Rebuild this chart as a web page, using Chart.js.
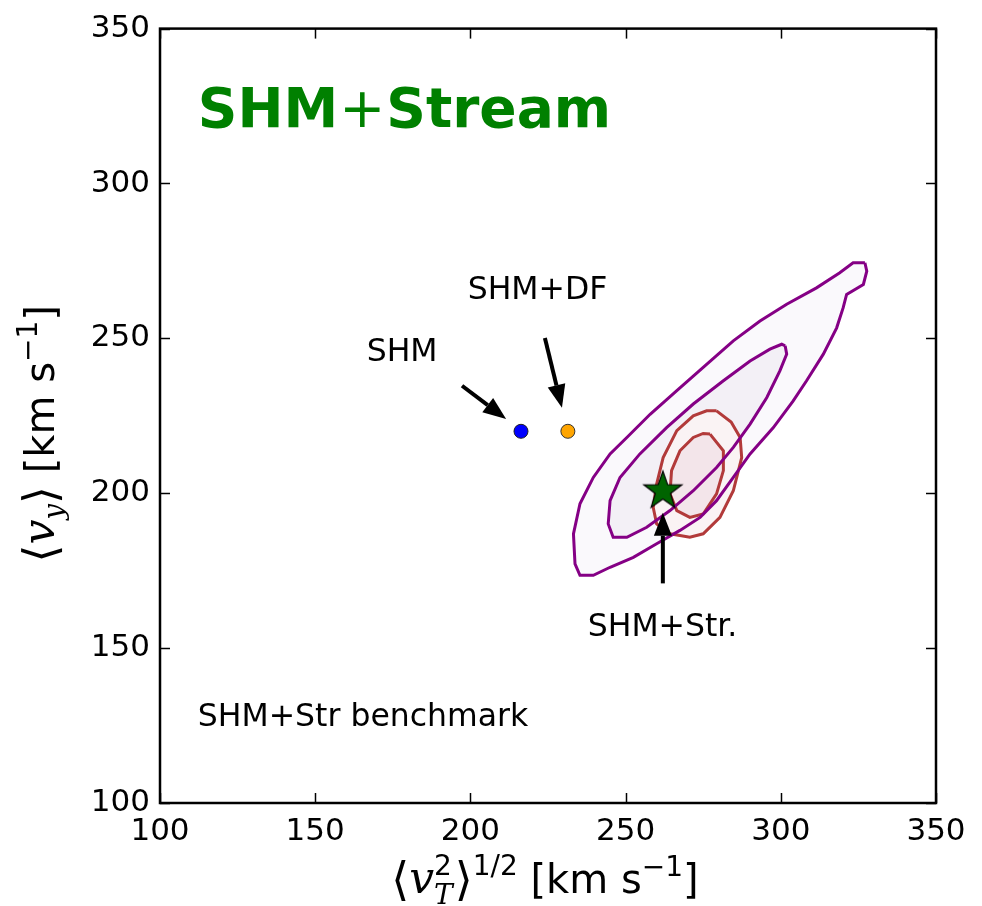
<!DOCTYPE html>
<html><head><meta charset="utf-8">
<script src="https://cdn.jsdelivr.net/npm/chart.js@4/dist/chart.umd.min.js"></script>
<style>html,body{margin:0;padding:0;background:#fff}#wrap{width:982px;height:906px}</style>
</head><body><div id="wrap"><canvas id="c"></canvas></div>
<script>
// ---------- data ----------
const xTicks = [100, 150, 200, 250, 300, 350];
const yTicks = [100, 150, 200, 250, 300, 350];

const pointNames = ['SHM', 'SHM+DF', 'SHM+Str.'];
const pointX = [216.3, 231.4, 262.0];
const pointY = [220.0, 220.0, 201.2];

// outer (95%) contour, purple
const outerPurpleX = [327.1, 327.7, 326.6, 321.2, 320.1, 318.0, 313.7, 308.3, 304.0, 297.6, 290.1, 284.7, 279.3, 274.0, 267.5, 260.0, 252.5, 245.0, 239.6, 235.3, 233.7, 233.2, 235.3, 239.6, 245.0, 250.4, 257.9, 266.5, 275.0, 284.7, 293.3, 301.9, 311.5, 319.0, 323.3, 327.1];
const outerPurpleY = [274.4, 271.7, 267.4, 264.2, 259.9, 253.4, 244.9, 236.3, 229.8, 221.2, 212.7, 205.1, 197.6, 192.2, 188.0, 183.7, 179.3, 176.1, 173.5, 173.5, 177.2, 186.9, 196.6, 205.1, 212.7, 218.0, 225.5, 233.1, 240.6, 249.2, 255.6, 261.0, 266.3, 271.2, 274.4, 274.4];
// inner (68%) contour, purple
const innerPurpleX = [301.4, 301.9, 299.7, 295.5, 290.1, 284.7, 279.3, 271.8, 264.3, 256.8, 250.4, 246.0, 244.4, 245.0, 248.2, 254.6, 263.2, 271.8, 281.5, 290.1, 296.5, 300.3, 301.4];
const innerPurpleY = [247.6, 244.9, 239.5, 230.9, 222.3, 214.8, 208.3, 200.8, 194.4, 189.0, 185.8, 185.8, 190.1, 197.6, 205.1, 212.7, 221.2, 228.8, 236.3, 242.7, 246.5, 248.1, 247.6];
// outer contour, red
const outerRedX = [279.3, 284.0, 286.9, 287.4, 284.7, 280.4, 275.0, 270.7, 264.3, 260.0, 258.9, 260.0, 262.1, 266.5, 271.8, 276.1, 279.3];
const outerRedY = [226.6, 223.0, 218.0, 211.5, 200.8, 192.2, 186.9, 185.8, 186.9, 190.1, 195.4, 203.0, 211.5, 220.2, 225.0, 226.6, 226.6];
// inner contour, red
const innerRedX = [277.2, 281.5, 281.5, 279.3, 275.0, 270.7, 266.5, 264.3, 264.8, 267.5, 271.8, 275.0, 277.2];
const innerRedY = [219.1, 213.7, 207.3, 199.8, 193.3, 192.2, 194.4, 199.8, 207.3, 213.7, 218.0, 219.3, 219.1];

// annotation arrows (data coordinates): start -> tip
const arrowFromX = [197.3, 224.0, 262.0];
const arrowFromY = [234.7, 250.1, 170.9];
const arrowToX = [211.5, 229.5, 262.0];
const arrowToY = [224.0, 227.6, 193.7];

// annotation labels
const labelTexts = ['SHM', 'SHM+DF', 'SHM+Str.', 'SHM+Str benchmark'];
const labelX = [178.0, 221.6, 261.9, 112.2];
const labelY = [245.3, 265.3, 156.4, 127.4];
const labelAlign = ['center', 'center', 'center', 'left'];

// ---------- helpers ----------
const pts = (xs, ys) => xs.map((x, i) => ({x: x, y: ys[i]}));

function makeStar(R) {
  const c = document.createElement('canvas');
  const s = Math.ceil(R * 2 + 4);
  c.width = s; c.height = s;
  const g = c.getContext('2d');
  const cx = s / 2, cy = s / 2 + 1.5, r = R * 0.40;
  g.beginPath();
  for (let i = 0; i < 10; i++) {
    const a = -Math.PI / 2 + i * Math.PI / 5;
    const rr = i % 2 === 0 ? R : r;
    const px = cx + rr * Math.cos(a), py = cy + rr * Math.sin(a);
    if (i === 0) g.moveTo(px, py); else g.lineTo(px, py);
  }
  g.closePath();
  g.fillStyle = '#006400'; g.fill();
  g.lineWidth = 1.2; g.strokeStyle = '#000'; g.stroke();
  return c;
}
const starImg = makeStar(20);

const FONT = '"DejaVu Sans", sans-serif';

function drawRich(ctx, parts, x, y) {
  let total = 0;
  parts.forEach(p => { ctx.font = p.f; p.w = (p.adv !== undefined) ? p.adv : ctx.measureText(p.t).width; total += p.w; });
  let cx = x - total / 2;
  ctx.textBaseline = 'alphabetic';
  ctx.textAlign = 'left';
  parts.forEach(p => { ctx.font = p.f; ctx.fillText(p.t, cx, y + (p.dy || 0)); cx += p.w; });
}

const decorPlugin = {
  id: 'decor',
  afterDatasetsDraw(chart) {
    const ctx = chart.ctx, xs = chart.scales.x, ys = chart.scales.y;
    ctx.save();
    // arrows
    ctx.fillStyle = '#000'; ctx.strokeStyle = '#000';
    for (let i = 0; i < arrowFromX.length; i++) {
      const x0 = xs.getPixelForValue(arrowFromX[i]), y0 = ys.getPixelForValue(arrowFromY[i]);
      const x1 = xs.getPixelForValue(arrowToX[i]), y1 = ys.getPixelForValue(arrowToY[i]);
      const ang = Math.atan2(y1 - y0, x1 - x0);
      const hl = 23, hw = 9;
      const bx = x1 - hl * Math.cos(ang), by = y1 - hl * Math.sin(ang);
      ctx.lineWidth = 4;
      ctx.beginPath(); ctx.moveTo(x0, y0); ctx.lineTo(bx, by); ctx.stroke();
      ctx.beginPath();
      ctx.moveTo(x1, y1);
      ctx.lineTo(bx + hw * Math.sin(ang), by - hw * Math.cos(ang));
      ctx.lineTo(bx - hw * Math.sin(ang), by + hw * Math.cos(ang));
      ctx.closePath(); ctx.fill();
    }
    // labels
    ctx.font = '31.5px ' + FONT;
    ctx.textBaseline = 'middle';
    for (let i = 0; i < labelTexts.length; i++) {
      ctx.textAlign = labelAlign[i];
      ctx.fillText(labelTexts[i], xs.getPixelForValue(labelX[i]), ys.getPixelForValue(labelY[i]));
    }
    // big title
    ctx.fillStyle = '#008000';
    ctx.textAlign = 'left'; ctx.textBaseline = 'alphabetic';
    let tx = xs.getPixelForValue(112.2), ty = 127;
    ctx.font = 'bold 55px ' + FONT; ctx.fillText('SHM', tx, ty); tx += ctx.measureText('SHM').width + 1;
    ctx.font = '55px ' + FONT; ctx.fillText('+', tx, ty); tx += ctx.measureText('+').width + 1;
    ctx.font = 'bold 55px ' + FONT; ctx.fillText('Stream', tx, ty);
    ctx.restore();
  },
  afterDraw(chart) {
    const ctx = chart.ctx, xs = chart.scales.x, ys = chart.scales.y;
    const a = chart.chartArea;
    ctx.save();
    ctx.strokeStyle = '#000';
    // inner ticks on all four sides
    ctx.lineWidth = 1.5;
    const tl = 10;
    xTicks.forEach(v => {
      const px = Math.round(xs.getPixelForValue(v)) + 0.5;
      ctx.beginPath(); ctx.moveTo(px, a.bottom); ctx.lineTo(px, a.bottom - tl); ctx.stroke();
      ctx.beginPath(); ctx.moveTo(px, a.top); ctx.lineTo(px, a.top + tl); ctx.stroke();
    });
    yTicks.forEach(v => {
      const py = Math.round(ys.getPixelForValue(v)) + 0.5;
      ctx.beginPath(); ctx.moveTo(a.left, py); ctx.lineTo(a.left + tl, py); ctx.stroke();
      ctx.beginPath(); ctx.moveTo(a.right, py); ctx.lineTo(a.right - tl, py); ctx.stroke();
    });
    // frame
    ctx.lineWidth = 2.5;
    ctx.strokeRect(a.left, a.top, a.right - a.left, a.bottom - a.top);
    // axis titles
    ctx.fillStyle = '#000';
    const big = '40px ' + FONT, sm = '28px ' + FONT;
    const mi = 'italic 44px "DejaVu Serif", serif', miS = 'italic 28px "DejaVu Serif", serif';
    const br = '46px "DejaVu Serif", serif';
    // x title: <v_T^2>^{1/2} [km s^-1]
    ctx.font = sm; const w2 = ctx.measureText('2').width;
    ctx.font = miS; const wT = ctx.measureText('T').width;
    drawRich(ctx, [
      {t: '\u27E8', f: br, dy: 2},
      {t: 'v', f: mi},
      {t: '2', f: sm, dy: -18, adv: 0},
      {t: 'T', f: miS, dy: 11, adv: Math.max(w2, wT) + 2},
      {t: '\u27E9', f: br, dy: 2},
      {t: '1/2', f: sm, dy: -18},
      {t: ' [km s', f: big},
      {t: '\u22121', f: sm, dy: -17},
      {t: ']', f: big}
    ], (a.left + a.right) / 2 - 3, 893);
    // y title (rotated): <v_y> [km s^-1]
    ctx.save();
    ctx.translate(54, (a.top + a.bottom) / 2 + 18);
    ctx.rotate(-Math.PI / 2);
    drawRich(ctx, [
      {t: '\u27E8', f: br, dy: 2},
      {t: 'v', f: mi},
      {t: 'y', f: miS, dy: 9},
      {t: '\u27E9', f: br, dy: 2},
      {t: ' [km s', f: big},
      {t: '\u22121', f: sm, dy: -17},
      {t: ']', f: big}
    ], 0, 0);
    ctx.restore();
    ctx.restore();
  }
};

const lineDs = (xs, ys, color, order) => ({
  data: pts(xs, ys), borderColor: color, borderWidth: 3, pointRadius: 0,
  fill: false, tension: 0, order: order, showLine: true
});
const fillDs = (xs, ys, color, order) => ({
  data: pts(xs, ys), borderWidth: 0, borderColor: 'rgba(0,0,0,0)', backgroundColor: color,
  pointRadius: 0, fill: 'shape', tension: 0, order: order, showLine: true
});

const PURPLE = '#850085', RED = '#b23a3a';

new Chart(document.getElementById('c'), {
  type: 'line',
  data: {
    datasets: [
      {
        data: pts(pointX, pointY), showLine: false, order: 0,
        pointStyle: ['circle', 'circle', starImg],
        pointRadius: [7, 7, 20],
        backgroundColor: ['#0000ff', '#ffa500', '#006400'],
        borderColor: ['#222', '#333', '#000'],
        pointBorderWidth: 1
      },
      lineDs(outerPurpleX, outerPurpleY, PURPLE, 1),
      lineDs(innerPurpleX, innerPurpleY, PURPLE, 2),
      lineDs(outerRedX, outerRedY, RED, 3),
      lineDs(innerRedX, innerRedY, RED, 4),
      fillDs(innerRedX, innerRedY, '#f3e5ea', 5),
      fillDs(outerRedX, outerRedY, '#faf3f4', 6),
      fillDs(innerPurpleX, innerPurpleY, '#f3f0f6', 7),
      fillDs(outerPurpleX, outerPurpleY, '#faf9fc', 8)
    ]
  },
  options: {
    responsive: true, maintainAspectRatio: false, animation: false,
    layout: {padding: {top: 27, right: 46, bottom: 0, left: 0}},
    plugins: {legend: {display: false}, tooltip: {enabled: false}, filler: {drawTime: 'beforeDatasetsDraw'}},
    events: [],
    scales: {
      x: {
        type: 'linear', min: 100, max: 350,
        afterBuildTicks: s => { s.ticks = xTicks.map(v => ({value: v})); },
        afterFit: s => { s.height = 103; },
        grid: {display: false, drawTicks: false}, border: {display: false},
        ticks: {font: {family: 'DejaVu Sans', size: 31}, color: '#000', padding: 10, maxRotation: 0, autoSkip: false}
      },
      y: {
        type: 'linear', min: 100, max: 350,
        afterBuildTicks: s => { s.ticks = yTicks.map(v => ({value: v})); },
        afterFit: s => { s.width = 160; },
        grid: {display: false, drawTicks: false}, border: {display: false},
        ticks: {font: {family: 'DejaVu Sans', size: 31}, color: '#000', padding: 10, autoSkip: false}
      }
    }
  },
  plugins: [decorPlugin]
});
</script></body></html>
